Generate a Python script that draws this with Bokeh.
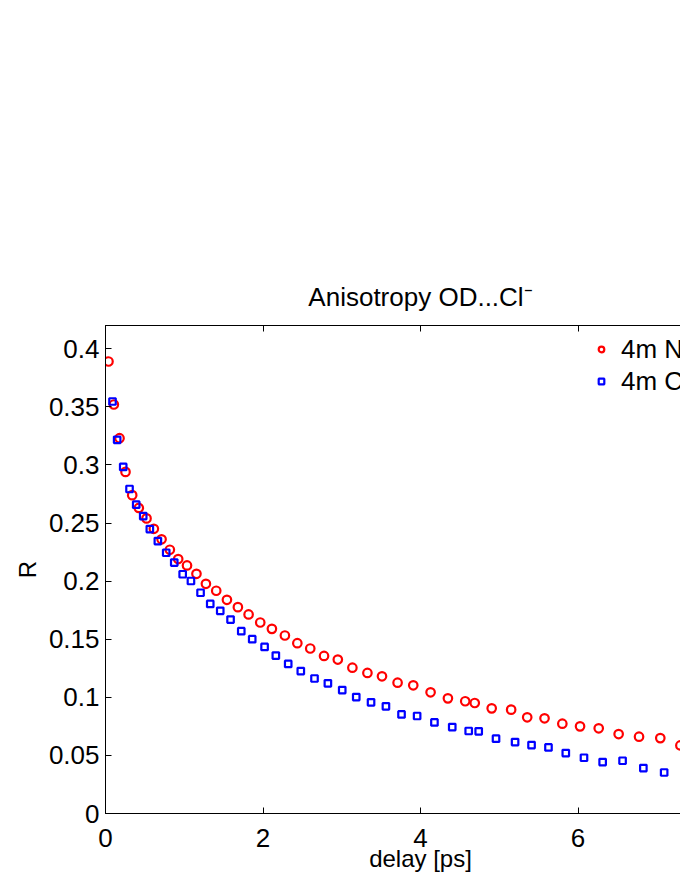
from bokeh.plotting import figure
from bokeh.models import LinearAxis, Range1d, FixedTicker, Legend, LegendItem
from bokeh.embed import file_html
from bokeh.resources import INLINE

# data
red_x = [0.038, 0.106, 0.178, 0.254, 0.339, 0.423, 0.521, 0.614, 0.712, 0.817,
         0.923, 1.035, 1.155, 1.275, 1.406, 1.542, 1.681, 1.817, 1.965, 2.113,
         2.278, 2.436, 2.600, 2.775, 2.950, 3.135, 3.326, 3.511, 3.709, 3.908,
         4.128, 4.348, 4.568, 4.689, 4.904, 5.151, 5.355, 5.575, 5.801, 6.026,
         6.263, 6.516, 6.775, 7.045, 7.300]
red_r = [0.389, 0.352, 0.323, 0.294, 0.274, 0.263, 0.254, 0.245, 0.236, 0.227,
         0.219, 0.2135, 0.2063, 0.1977, 0.1917, 0.1839, 0.1776, 0.1713, 0.1644, 0.1589,
         0.1532, 0.1466, 0.1420, 0.1356, 0.1325, 0.1255, 0.1210, 0.1181, 0.1126, 0.1103,
         0.1043, 0.0991, 0.0966, 0.0951, 0.0905, 0.0894, 0.0828, 0.0819, 0.0773, 0.0750,
         0.0733, 0.0684, 0.0661, 0.0649, 0.0586]

blue_x = [0.089, 0.148, 0.225, 0.305, 0.390, 0.479, 0.563, 0.665, 0.771, 0.873,
          0.980, 1.085, 1.207, 1.330, 1.457, 1.588, 1.724, 1.863, 2.020, 2.163,
          2.320, 2.480, 2.654, 2.824, 3.006, 3.184, 3.372, 3.561, 3.759, 3.957,
          4.177, 4.403, 4.612, 4.739, 4.959, 5.201, 5.410, 5.625, 5.845, 6.076,
          6.313, 6.566, 6.830, 7.094]
blue_r = [0.3546, 0.3216, 0.2983, 0.2793, 0.2658, 0.2560, 0.2448, 0.2345, 0.2244, 0.2160,
          0.2059, 0.2001, 0.1900, 0.1804, 0.1744, 0.1669, 0.1569, 0.1500, 0.1434, 0.1359,
          0.1287, 0.1226, 0.1162, 0.1120, 0.1062, 0.1002, 0.0957, 0.0922, 0.0853, 0.0839,
          0.0784, 0.0744, 0.0710, 0.0707, 0.0644, 0.0615, 0.0589, 0.0569, 0.0520, 0.0480,
          0.0443, 0.0454, 0.0391, 0.0353]

x_ticks = [0, 2, 4, 6]
y_ticks = [0, 0.05, 0.1, 0.15, 0.2, 0.25, 0.3, 0.35, 0.4]
y_tick_labels = {0: "0", 0.05: "0.05", 0.1: "0.1", 0.15: "0.15", 0.2: "0.2",
                 0.25: "0.25", 0.3: "0.3", 0.35: "0.35", 0.4: "0.4"}

title_text = "Anisotropy OD...Cl\u207b"
x_label = "delay [ps]"
y_label = "R"
legend_labels = ["4m NaCl", "4m CsCl"]

FONT = "Liberation Sans"

p = figure(width=790, height=880, output_backend="svg", toolbar_location=None,
           x_range=Range1d(0, 8), y_range=Range1d(0, 0.42),
           min_border_left=105, min_border_right=55, min_border_top=325,
           min_border_bottom=67, background_fill_color="white",
           border_fill_color="white", outline_line_color="black",
           outline_line_width=1)

p.title.text = title_text
p.title.text_font = FONT
p.title.text_font_size = "26px"
p.title.text_font_style = "normal"
p.title.text_color = "black"
p.title.align = "center"
p.title.standoff = 28

p.xgrid.visible = False
p.ygrid.visible = False

def style_axis(ax, ticks, show_labels=True):
    ax.ticker = FixedTicker(ticks=ticks)
    ax.axis_line_color = "black"
    ax.axis_line_width = 1
    ax.major_tick_in = 6
    ax.major_tick_out = 0
    ax.major_tick_line_color = "black"
    ax.minor_tick_line_color = None
    ax.major_label_text_font = FONT
    ax.major_label_text_font_size = "26px"
    ax.major_label_text_color = "black" if show_labels else None
    ax.axis_label_text_font = FONT
    ax.axis_label_text_font_size = "24px"
    ax.axis_label_text_font_style = "normal"
    ax.axis_label_text_color = "black"

xa = p.xaxis[0]
style_axis(xa, x_ticks)
xa.major_label_standoff = 15
xa.axis_label = x_label
xa.axis_label_standoff = -5

ya = p.yaxis[0]
style_axis(ya, y_ticks)
ya.major_label_overrides = y_tick_labels
ya.major_label_standoff = 6
ya.axis_label = y_label
ya.axis_label_standoff = 5

top = LinearAxis()
style_axis(top, x_ticks, show_labels=False)
p.add_layout(top, "above")

right = LinearAxis()
style_axis(right, y_ticks, show_labels=False)
p.add_layout(right, "right")

r1 = p.scatter(red_x, red_r, marker="circle", size=8.5, fill_color=None,
               line_color="#ff0000", line_width=2.2)
r2 = p.scatter(blue_x, blue_r, marker="square", size=6.5, fill_color=None,
               line_color="#0000ff", line_width=2.2)

legend = Legend(items=[LegendItem(label=legend_labels[0], renderers=[r1]),
                       LegendItem(label=legend_labels[1], renderers=[r2])],
                location=(489, 416))
legend.border_line_color = None
legend.background_fill_alpha = 0
legend.padding = 0
legend.margin = 0
legend.spacing = 0
legend.glyph_width = 14
legend.glyph_height = 32
legend.label_height = 32
legend.label_standoff = 13
legend.label_text_font = FONT
legend.label_text_font_size = "26px"
legend.label_text_color = "black"
legend.label_text_baseline = "middle"
p.add_layout(legend)

open("out.html", "w").write(file_html(p, INLINE))
